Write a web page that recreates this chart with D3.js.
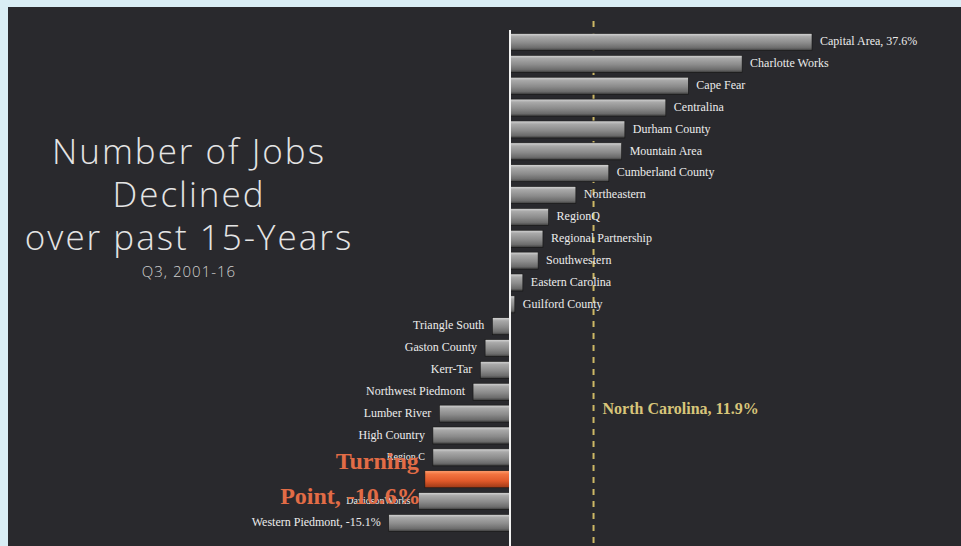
<!DOCTYPE html>
<html>
<head>
<meta charset="utf-8">
<script src="https://cdn.jsdelivr.net/npm/d3@7"></script>
<style>
  html, body { margin: 0; padding: 0; background: #d9edf4; }
  svg { display: block; }
</style>
</head>
<body>
<div class="jobs-chart"></div>
<script>
var regions = ["Capital Area", "Charlotte Works", "Cape Fear", "Centralina", "Durham County",
    "Mountain Area", "Cumberland County", "Northeastern", "RegionQ", "Regional Partnership",
    "Southwestern", "Eastern Carolina", "Guilford County", "Triangle South", "Gaston County",
    "Kerr-Tar", "Northwest Piedmont", "Lumber River", "High Country", "Region C",
    "Turning Point", "DavidsonWorks", "Western Piedmont"];

var change = [37.6, 28.9, 22.2, 19.4, 14.3, 13.9, 12.3, 8.2, 4.8, 4.1, 3.5, 1.6, 0.6,
    -2.2, -3.1, -3.7, -4.6, -8.8, -9.6, -9.6, -10.6, -11.4, -15.1];

var highlight = "Turning Point";
var ncLabel = "North Carolina, 11.9%";
var ncLine = 10.4;   // where the dashed state line sits in the picture

var titleLines = ["Number of Jobs", "Declined", "over past 15-Years"];
var subTitle = "Q3, 2001-16";

var width = 961,
    height = 546;

var svg = d3.select(".jobs-chart")
    .append("svg")
    .attr("width", width)
    .attr("height", height);

var defs = svg.append("defs");

function addGradient(id, stops) {
    var g = defs.append("linearGradient")
        .attr("id", id)
        .attr("x1", 0).attr("y1", 0)
        .attr("x2", 0).attr("y2", 1);
    stops.forEach(function (s) {
        g.append("stop").attr("offset", s[0]).attr("stop-color", s[1]);
    });
}

addGradient("barGray", [["0%", "#d6d6d6"], ["18%", "#a9a9a9"], ["55%", "#8b8b8b"], ["85%", "#6b6b6b"], ["100%", "#3a3a3a"]]);
addGradient("barOrange", [["0%", "#ffa070"], ["20%", "#f27440"], ["60%", "#e0592a"], ["100%", "#9c3816"]]);

// dark panel
svg.append("rect")
    .attr("x", 8)
    .attr("y", 7)
    .attr("width", width - 8)
    .attr("height", height - 7)
    .attr("fill", "#29292d");

// Domain Scale
var xScale = d3.scaleLinear()
    .domain([0, 37.6])
    .range([510, 812]);

var yScale = d3.scaleBand()
    .domain(regions)
    .range([28.7, 536.3])
    .padding(0.22);

// title block
var title = svg.append("g")
    .attr("text-anchor", "middle")
    .attr("fill", "#e4e4e4")
    .style("font-family", "'Open Sans', sans-serif")
    .style("font-weight", 300);

title.selectAll("text.title")
    .data(titleLines)
    .enter()
    .append("text")
    .attr("class", "title")
    .attr("x", 189)
    .attr("y", function (d, i) { return 164 + i * 43; })
    .style("font-size", "35px")
    .style("letter-spacing", "2px")
    .text(function (d) { return d; });

title.append("text")
    .attr("x", 189)
    .attr("y", 277)
    .attr("fill", "#cfcfcf")
    .style("font-size", "15px")
    .style("letter-spacing", "1px")
    .text(subTitle);

// dashed state line
svg.append("line")
    .attr("x1", xScale(ncLine))
    .attr("x2", xScale(ncLine))
    .attr("y1", 21)
    .attr("y2", height)
    .attr("stroke", "#cdb865")
    .attr("stroke-width", 2)
    .attr("stroke-dasharray", "6,6");

svg.append("text")
    .attr("x", xScale(ncLine) + 9)
    .attr("y", 414)
    .attr("fill", "#d8c57a")
    .style("font-family", "'Liberation Serif', serif")
    .style("font-weight", "bold")
    .style("font-size", "16px")
    .text(ncLabel);

// bars
var rows = regions.map(function (r, i) { return { name: r, value: change[i], index: i }; });

svg.selectAll("rect.bar")
    .data(rows)
    .enter()
    .append("rect")
    .attr("class", "bar")
    .attr("x", function (d) { return xScale(Math.min(0, d.value)); })
    .attr("y", function (d) { return yScale(d.name); })
    .attr("width", function (d) { return Math.abs(xScale(d.value) - xScale(0)); })
    .attr("height", yScale.bandwidth())
    .attr("fill", function (d) { return d.name === highlight ? "url(#barOrange)" : "url(#barGray)"; })
    .attr("stroke", "#151515")
    .attr("stroke-width", 0.6);

// zero line
svg.append("line")
    .attr("x1", xScale(0))
    .attr("x2", xScale(0))
    .attr("y1", 30)
    .attr("y2", height)
    .attr("stroke", "#f2f2f2")
    .attr("stroke-width", 2);

// bar labels
function labelText(d) {
    if (d.index === 0 || d.index === rows.length - 1) {
        return d.name + ", " + d.value + "%";
    }
    return d.name;
}

svg.selectAll("text.lbl")
    .data(rows.filter(function (d) { return d.name !== highlight; }))
    .enter()
    .append("text")
    .attr("class", "lbl")
    .attr("x", function (d) { return d.value >= 0 ? xScale(d.value) + 8 : xScale(d.value) - 8; })
    .attr("y", function (d) { return yScale(d.name) + yScale.bandwidth() / 2 - 1; })
    .attr("dy", "0.35em")
    .attr("text-anchor", function (d) { return d.value >= 0 ? "start" : "end"; })
    .attr("fill", "#ececec")
    .style("font-family", "'Liberation Serif', serif")
    .style("font-size", function (d) { return d.name === "Region C" || d.name === "DavidsonWorks" ? "10px" : "12px"; })
    .text(labelText);

// big orange callout for the highlighted region
var hi = rows.filter(function (d) { return d.name === highlight; })[0];
var hiY = yScale(hi.name) + yScale.bandwidth() / 2;

var callout = svg.append("text")
    .attr("text-anchor", "end")
    .attr("fill", "#e26c46")
    .style("font-family", "'Liberation Serif', serif")
    .style("font-weight", "bold")
    .style("font-size", "24px");

callout.append("tspan")
    .attr("x", xScale(hi.value) - 6)
    .attr("y", hiY - 10)
    .text("Turning");

callout.append("tspan")
    .attr("x", xScale(hi.value) - 4)
    .attr("y", hiY + 25)
    .text("Point, " + hi.value + "%");
</script>
</body>
</html>
